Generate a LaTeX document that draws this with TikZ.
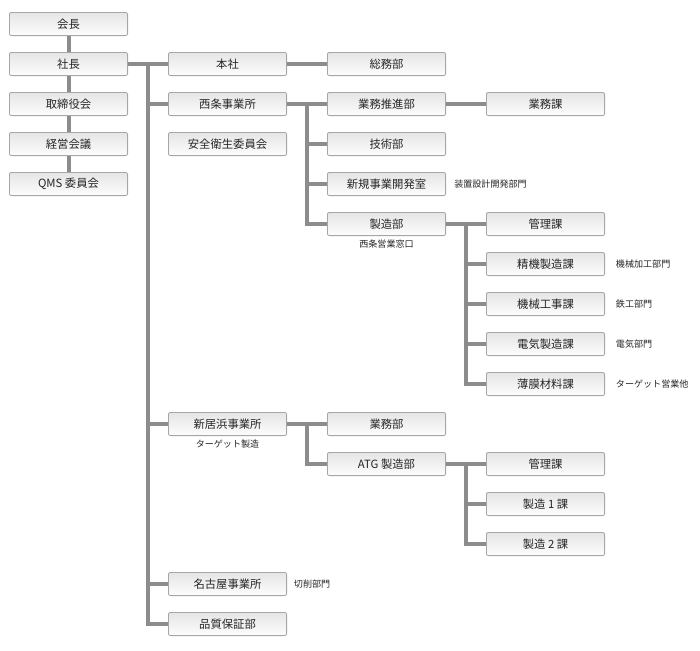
\documentclass[tikz,border=0pt]{standalone}
\usepackage{fontspec}
\setmainfont{Noto Sans CJK JP}
\usepackage{xcolor}
\usepackage{tikz}
\usetikzlibrary{positioning,calc}

\begin{document}
\begin{tikzpicture}[
    x=1pt, y=1pt,
    font=\fontsize{8.5pt}{10pt}\selectfont,
    box/.style={draw=black!35, rounded corners=1.5pt, align=center,
                minimum width=88.65pt, minimum height=17.4pt,
                inner sep=0pt, line width=0.6pt, text=black!85,
                top color=black!10, bottom color=black!1},
    note/.style={font=\fontsize{6.8pt}{8pt}\selectfont, inner sep=0pt,
                 text=black!85},
    link/.style={draw=black!45, line width=3pt, line join=miter}
]
\useasboundingbox (0,0) rectangle (525,-487.5);
% --- left column: top management ---------------------------------------
\node[box, anchor=north west] (kaicho) at (6.75,-9) {会長};
\node[box, below=12pt of kaicho]   (shacho)   {社長};
\node[box, below=12pt of shacho]   (torishi)  {取締役会};
\node[box, below=12pt of torishi]  (keiei)    {経営会議};
\node[box, below=12pt of keiei]    (qms)      {QMS 委員会};
% --- second column: offices --------------------------------------------
\node[box, right=30pt of shacho]   (honsha)   {本社};
\node[box, below=12pt of honsha]   (saijo)    {西条事業所};
\node[box, below=12pt of saijo]    (anzen)    {安全衛生委員会};
% --- Saijo branch ------------------------------------------------------
\node[box, right=30pt of honsha]   (somu)     {総務部};
\node[box, right=30pt of saijo]    (suishin)  {業務推進部};
\node[box, right=30pt of suishin]  (gyomuka)  {業務課};
\node[box, below=12pt of suishin]  (gijutsu)  {技術部};
\node[box, below=12pt of gijutsu]  (shinki)   {新規事業開発室};
\node[box, below=12pt of shinki]   (seizo)    {製造部};
\node[box, right=30pt of seizo]    (kanri)    {管理課};
\node[box, below=12pt of kanri]    (seiki)    {精機製造課};
\node[box, below=12pt of seiki]    (kikai)    {機械工事課};
\node[box, below=12pt of kikai]    (denki)    {電気製造課};
\node[box, below=12pt of denki]    (hakumaku) {薄膜材料課};
\node[note, right=6pt of shinki]   (shinkiN)  {装置設計開発部門};
\node[note, below=3pt of seizo]    (seizoN)   {西条営業窓口};
\node[note, right=8pt of seiki]    (seikiN)   {機械加工部門};
\node[note, right=8pt of kikai]    (kikaiN)   {鉄工部門};
\node[note, right=8pt of denki]    (denkiN)   {電気部門};
\node[note, right=8pt of hakumaku] (hakuN)    {ターゲット営業他};
% --- Niihama branch ----------------------------------------------------
\coordinate (row10) at (anzen.south |- hakumaku.south);
\node[box, below=12pt of row10]    (niihama)  {新居浜事業所};
\node[box, right=30pt of niihama]  (gyomubu)  {業務部};
\node[box, below=12pt of gyomubu]  (atg)      {ATG 製造部};
\node[box, right=30pt of atg]      (kanri2)   {管理課};
\node[box, below=12pt of kanri2]   (seizo1)   {製造 1 課};
\node[box, below=12pt of seizo1]   (seizo2)   {製造 2 課};
\node[note, below=3pt of niihama]  (niihamaN) {ターゲット製造};
% --- Nagoya and QA -----------------------------------------------------
\coordinate (row14) at (niihama.south |- seizo2.south);
\node[box, below=12pt of row14]    (nagoya)   {名古屋事業所};
\node[box, below=12pt of nagoya]   (hinshitsu){品質保証部};
\node[note, right=5pt of nagoya]   (nagoyaN)  {切削部門};
% --- junction points ---------------------------------------------------
\coordinate (trunk) at ($(shacho.east)!0.5!(honsha.west)$);
\coordinate (sj)    at ($(saijo.east)!0.5!(suishin.west)$);
\coordinate (sz)    at ($(seizo.east)!0.5!(kanri.west)$);
\coordinate (nh)    at ($(niihama.east)!0.5!(gyomubu.west)$);
\coordinate (at)    at ($(atg.east)!0.5!(kanri2.west)$);
% --- connectors --------------------------------------------------------
\draw[link] (kaicho) -- (shacho);
\draw[link] (shacho) -- (torishi);
\draw[link] (torishi) -- (keiei);
\draw[link] (keiei) -- (qms);
\draw[link] (shacho) -- (honsha);
\draw[link] (honsha) -- (somu);
\foreach \c in {saijo,niihama,nagoya,hinshitsu}
    \draw[link] (trunk) |- (\c.west);
\draw[link] (saijo) -- (suishin);
\draw[link] (suishin) -- (gyomuka);
\foreach \c in {gijutsu,shinki,seizo}
    \draw[link] (sj) |- (\c.west);
\draw[link] (seizo) -- (kanri);
\foreach \c in {seiki,kikai,denki,hakumaku}
    \draw[link] (sz) |- (\c.west);
\draw[link] (niihama) -- (gyomubu);
\draw[link] (nh) |- (atg.west);
\draw[link] (atg) -- (kanri2);
\foreach \c in {seizo1,seizo2}
    \draw[link] (at) |- (\c.west);
\end{tikzpicture}
\end{document}
